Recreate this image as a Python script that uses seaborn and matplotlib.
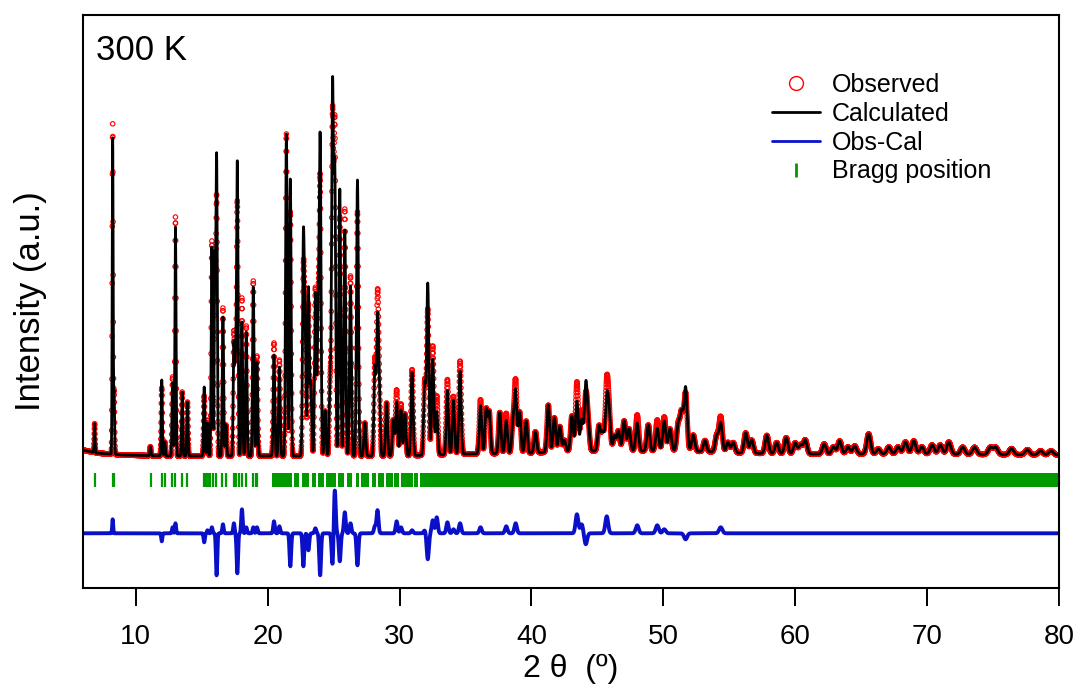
import numpy as np
import matplotlib
matplotlib.use("Agg")
import matplotlib.pyplot as plt
from matplotlib.lines import Line2D
import seaborn as sns

# ---------------- data ----------------
# peak positions (2theta, deg), calculated and observed peak heights (a.u.)
peak_pos = [6.88, 8.25, 8.36, 11.11, 11.97, 12.20, 12.79, 13.01, 13.52, 13.92,
            15.19, 15.44, 15.77, 16.00, 16.13, 16.61, 16.84, 17.44, 17.57, 17.70,
            18.05, 18.38, 18.91, 19.19, 20.48, 20.89, 21.42, 21.72, 22.71, 22.84,
            23.09, 23.27, 23.62, 23.83, 23.98, 24.36, 24.74, 24.92, 25.09, 25.47,
            25.85, 26.28, 26.81, 27.37, 28.13, 28.33, 28.46, 29.02, 29.53, 29.78,
            30.11, 30.41, 30.95, 31.91, 32.14, 32.52, 32.82, 33.63, 34.09, 34.59,
            36.14, 36.57, 36.80, 37.60, 38.09, 38.60, 38.80, 39.10, 39.60, 40.30,
            41.28, 41.74, 42.15, 42.50, 43.07, 43.45, 43.81, 44.12, 44.30, 45.13,
            45.40, 45.71, 45.89, 46.30, 46.60, 47.03, 47.40, 48.02, 48.86, 49.54,
            50.07, 50.50, 51.13, 51.39, 51.69, 52.27, 53.16, 54.05, 54.35, 54.90,
            55.30, 56.25, 56.70, 57.85, 58.60, 59.32, 60.00, 60.40, 60.76, 62.20,
            62.90, 63.37, 64.00, 64.51, 65.57, 66.30, 67.10, 67.80, 68.36, 68.99,
            69.60, 70.38, 71.00, 71.65, 72.70, 73.60, 74.80, 75.20, 76.40, 77.60,
            78.60, 79.40]
calc_h = [29, 316, 61, 9, 76, 14, 73, 229, 64, 54,
          69, 33, 209, 193, 297, 139, 31, 111, 89, 291,
          134, 124, 169, 94, 101, 89, 322, 277, 212, 124,
          168, 71, 163, 143, 314, 45, 74, 366, 282, 267,
          226, 170, 276, 33, 88, 128, 61, 53, 36, 54,
          46, 42, 83, 71, 171, 96, 43, 64, 54, 83,
          48, 44, 41, 41, 33, 29, 61, 41, 32, 21,
          47, 34, 25, 11, 35, 50, 31, 64, 25, 25,
          19, 49, 35, 15, 20, 30, 22, 28, 26, 23,
          30, 22, 26, 37, 63, 16, 11, 16, 29, 10,
          10, 20, 13, 18, 11, 16, 11, 9, 14, 10,
          7, 13, 7, 8, 20, 5, 7, 7, 12, 13,
          7, 9, 9, 12, 7, 7, 7, 7, 6, 5,
          4, 4]
obs_h = [29, 330, 61, 9, 68, 14, 79, 239, 64, 54,
         60, 36, 215, 193, 255, 148, 31, 121, 89, 251,
         158, 130, 175, 100, 113, 96, 322, 244, 179, 124,
         151, 71, 168, 143, 272, 45, 74, 334, 326, 239,
         247, 180, 244, 33, 95, 151, 61, 53, 36, 66,
         52, 42, 86, 74, 145, 109, 59, 75, 58, 93,
         54, 44, 41, 41, 40, 29, 71, 41, 32, 21,
         47, 34, 25, 11, 35, 69, 40, 53, 25, 25,
         19, 66, 35, 15, 20, 30, 22, 36, 26, 31,
         34, 22, 26, 37, 57, 16, 11, 16, 35, 10,
         10, 20, 13, 18, 11, 16, 11, 9, 14, 10,
         7, 13, 7, 8, 20, 5, 7, 7, 12, 13,
         7, 9, 9, 12, 7, 7, 7, 7, 6, 5,
         4, 4]
# smooth background anchor points
bg_pos = [6, 7, 9, 12, 30, 35, 40, 43, 52, 56, 60, 70, 80]
bg_val = [6, 3, 1, 0, 0, 2, 3, 5, 5, 3, 2, 2, 1]
# isolated Bragg reflections and ranges where reflections merge
bragg_single = [6.93, 8.25, 8.35, 11.16, 11.97, 12.18, 12.76, 12.97, 13.52, 13.90,
                15.15, 15.30, 15.45, 15.60, 15.85, 16.10, 16.53, 16.86, 17.42,
                17.62, 17.82, 18.05, 18.36, 18.89, 19.14, 19.19]
bragg_ranges = [(20.35, 21.87), (22.00, 22.38), (22.59, 23.14), (23.35, 23.65),
                (23.78, 24.28), (24.41, 25.17), (25.37, 25.80), (25.98, 26.43),
                (26.69, 26.89), (27.07, 27.70), (27.91, 28.21), (28.33, 28.84),
                (28.97, 29.47), (29.60, 29.98), (30.11, 30.99), (31.12, 31.37),
                (31.55, 80.0)]
x_ticks = [10, 20, 30, 40, 50, 60, 70, 80]

# ---------------- profiles ----------------
tt = np.arange(6.0, 80.0001, 0.01)
bg = np.interp(tt, bg_pos, bg_val)


def profile(heights):
    y = bg.copy()
    for p, h in zip(peak_pos, heights):
        w = 0.045 + 0.0045 * p
        y += h * np.exp(-4 * np.log(2) * ((tt - p) / w) ** 2)
    return y


calc = profile(calc_h)
obs = profile(obs_h)
diff_offset = -77.3
diff = obs - calc + diff_offset

# ---------------- plotting ----------------
sns.set_theme(style="ticks")
plt.rcParams["font.family"] = ["Liberation Sans", "DejaVu Sans"]

fig = plt.figure(figsize=(10.8, 6.87), dpi=100)
rect = [83 / 1080, 1 - 588 / 687, 976 / 1080, 573 / 687]
ax = fig.add_axes(rect)

red, blue, green = "#ff0000", "#0a10c8", "#009900"

sns.scatterplot(x=tt, y=obs, ax=ax, marker="o", s=10, linewidth=0.8,
                legend=False)
coll = ax.collections[-1]
coll.set_facecolor("none")
coll.set_edgecolor(red)

sns.lineplot(x=tt, y=calc, ax=ax, color="black", lw=2.0,
             estimator=None, sort=False)
sns.lineplot(x=tt, y=diff, ax=ax, color=blue, lw=2.8,
             estimator=None, sort=False)

y_lo, y_hi = -30.7, -17.3
ax.vlines(bragg_single, y_lo, y_hi, color=green, lw=1.6)
for a, b in bragg_ranges:
    ax.fill_between([a, b], [y_lo, y_lo], [y_hi, y_hi], color=green, lw=0)

ax.set_xlim(6, 80)
ax.set_ylim(-132, 441)
ax.set_xticks(x_ticks)
ax.set_yticks([])
ax.tick_params(axis="x", direction="out", length=13, width=1.3, pad=13,
               labelsize=20, bottom=True, top=False, color="black",
               labelcolor="black")
for sp in ax.spines.values():
    sp.set_visible(True)
    sp.set_color("black")
    sp.set_linewidth(1.5)

ax.set_xlabel("2 θ  (º)", fontsize=23, labelpad=3, color="black")
ax.set_ylabel("Intensity (a.u.)", fontsize=25, labelpad=26, color="black")

ax.text(0.013, 0.966, "300 K", transform=ax.transAxes, fontsize=25,
        ha="left", va="top", color="black")

handles = [
    Line2D([], [], marker="o", ls="none", mfc="none", mec=red, ms=10, mew=1.0),
    Line2D([], [], color="black", lw=2),
    Line2D([], [], color=blue, lw=2),
    Line2D([], [], marker="|", ls="none", color=green, ms=10, mew=2),
]
labels = ["Observed", "Calculated", "Obs-Cal", "Bragg position"]
leg = ax.legend(handles, labels, loc="upper left",
                bbox_to_anchor=(772 / 1080, 1 - 73 / 687),
                bbox_transform=fig.transFigure, frameon=False, fontsize=18,
                handlelength=1.9, handletextpad=0.5, labelspacing=0.19,
                borderpad=0, borderaxespad=0)
for t in leg.get_texts():
    t.set_color("black")

# thin strip axes just below the plot, drawn on top, carrying the outward tick marks
tick_h = 18 / 687
tax = fig.add_axes([rect[0], rect[1] - tick_h, rect[2], tick_h], zorder=20)
tax.set_xlim(6, 80)
tax.set_ylim(0, 1)
tax.vlines(x_ticks, 0, 1, color="black", lw=1.3)
tax.patch.set_alpha(0)
tax.set_axis_off()

fig.savefig("out.png", dpi=100)
